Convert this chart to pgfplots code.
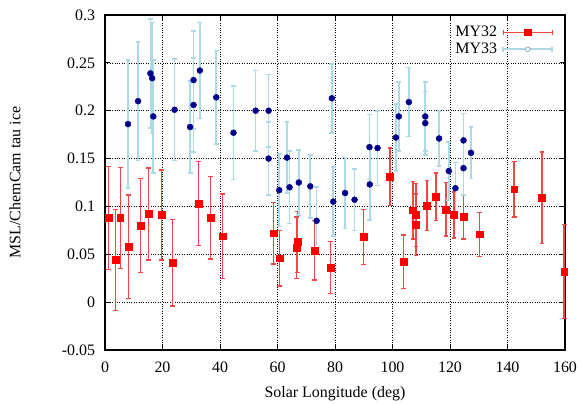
\documentclass[border=0pt]{standalone}
\usepackage{fontspec}
\setmainfont{Liberation Serif}
\usepackage{pgfplots}
\usepackage{pgfplotstable}
\pgfplotsset{compat=1.18}
\definecolor{barred}{RGB}{240,70,70}
\definecolor{ptred}{RGB}{255,0,0}
\definecolor{barblue}{RGB}{173,216,230}
\definecolor{ptnavy}{RGB}{0,0,139}

% MY32: Ls, tau, error
\pgfplotstableread{
x y e
1.3 0.088 0.054
3.6 0.044 0.053
5.3 0.088 0.053
8.2 0.058 0.054
12.3 0.080 0.049
15.2 0.092 0.048
19.6 0.091 0.047
23.5 0.041 0.045
32.5 0.103 0.044
36.7 0.088 0.043
40.9 0.069 0.044
58.6 0.072 0.032
60.7 0.046 0.029
66.7 0.057 0.032
67.0 0.063 0.032
72.9 0.054 0.031
78.5 0.036 0.027
90.0 0.068 0.029
99.1 0.131 0.030
103.9 0.042 0.028
107.1 0.096 0.030
108.2 0.091 0.033
108.2 0.081 0.032
112.0 0.101 0.026
115.1 0.110 0.025
118.6 0.097 0.028
121.4 0.091 0.024
124.8 0.089 0.023
130.2 0.071 0.023
142.3 0.118 0.029
152.0 0.109 0.048
159.7 0.032 0.049
}\myA

% MY33
\pgfplotstableread{
x y e
8.0 0.186 0.067
11.5 0.210 0.062
15.8 0.239 0.057
16.4 0.234 0.058
16.8 0.194 0.059
24.2 0.201 0.053
29.6 0.183 0.048
30.8 0.206 0.049
30.8 0.232 0.051
33.0 0.242 0.050
38.7 0.214 0.049
44.7 0.177 0.049
52.4 0.200 0.042
56.9 0.200 0.038
56.9 0.150 0.038
60.6 0.117 0.038
63.3 0.151 0.037
64.2 0.120 0.038
67.4 0.125 0.034
71.4 0.121 0.033
73.6 0.085 0.035
78.9 0.213 0.036
79.4 0.105 0.036
83.5 0.114 0.037
86.8 0.107 0.032
92.0 0.162 0.034
92.1 0.123 0.037
94.8 0.161 0.039
101.2 0.172 0.035
102.2 0.194 0.036
105.7 0.209 0.036
111.4 0.194 0.036
111.4 0.187 0.033
116.2 0.171 0.029
119.6 0.137 0.030
121.9 0.119 0.027
124.7 0.169 0.028
124.7 0.140 0.028
127.3 0.156 0.027
}\myB

\begin{document}
\begin{tikzpicture}
\begin{axis}[
  scale only axis, width=460bp, height=335bp,
  xmin=0, xmax=160, ymin=-0.05, ymax=0.3,
  xtick={0,20,40,60,80,100,120,140,160},
  ytick={-0.05,0,0.05,0.1,0.15,0.2,0.25,0.3},
  yticklabels={-0.05,0,0.05,0.1,0.15,0.2,0.25,0.3},
  /pgf/number format/assume math mode=true,
  tick label style={font=\fontsize{16}{19}\selectfont},
  xticklabel style={yshift=-8bp},
  yticklabel style={xshift=-6.5bp},
  tick align=inside, major tick length=5bp,
  tick style={black, line width=0.8bp},
  axis line style={black, line width=1.3bp},
  grid=major, grid style={black, line width=0.6bp, dash pattern=on 0.8bp off 1.6bp},
  xlabel={Solar Longitude (deg)},
  ylabel={MSL/ChemCam tau ice},
  every axis x label/.style={at={(axis description cs:0.5,-0.143)}, anchor=base,
    font=\fontsize{16}{19}\selectfont},
  every axis y label/.style={at={(axis description cs:-0.196,0.5)}, rotate=90, anchor=center,
    font=\fontsize{16}{19}\selectfont},
  legend style={at={(axis description cs:0.981,0.979)}, anchor=north east, draw=none, fill=none,
    font=\fontsize{16}{19}\selectfont, row sep=1bp},
  legend cell align=right, legend plot pos=right,
  clip=false,
]
\coordinate (ll) at (rel axis cs:0,0);
\coordinate (ur) at (rel axis cs:1,1);
\addplot[only marks, mark=square*, mark size=3.4bp, color=ptred,
  legend image code/.code={
    \path (0bp,0bp);
    \draw[barred, line width=1.3bp] (4bp,0bp) -- (53bp,0bp);
    \draw[barred, line width=1.3bp] (4bp,-2.4bp) -- (4bp,2.4bp);
    \draw[barred, line width=1.3bp] (53bp,-2.4bp) -- (53bp,2.4bp);
    \fill[ptred] (25.1bp,-3.4bp) rectangle (31.9bp,3.4bp);
  },
  error bars/.cd, y dir=both, y explicit,
  error bar style={barred, line width=1.3bp},
  error mark options={barred, line width=1.3bp, mark size=2.4bp, rotate=90}]
  table[x=x, y=y, y error=e] {\myA};
\addlegendentry{MY32}
\addplot[only marks, mark=*, mark size=3bp, color=ptnavy, fill=ptnavy,
  legend image code/.code={
    \path (0bp,0bp);
    \draw[barblue, line width=1.6bp] (4bp,0bp) -- (53bp,0bp);
    \draw[barblue, line width=1.6bp] (4bp,-2.4bp) -- (4bp,2.4bp);
    \draw[barblue, line width=1.6bp] (53bp,-2.4bp) -- (53bp,2.4bp);
    \draw[barblue!80!black, line width=0.8bp, fill=white] (28.5bp,0bp) circle (2.4bp);
  },
  error bars/.cd, y dir=both, y explicit,
  error bar style={barblue, line width=1.6bp},
  error mark options={barblue, line width=1.6bp, mark size=2.4bp, rotate=90}]
  table[x=x, y=y, y error=e] {\myB};
\addlegendentry{MY33}
\end{axis}
\pgfresetboundingbox
\path[use as bounding box] ([shift={(-105bp,-54bp)}]ll) rectangle ([shift={(16bp,15bp)}]ur);
\end{tikzpicture}
\end{document}
